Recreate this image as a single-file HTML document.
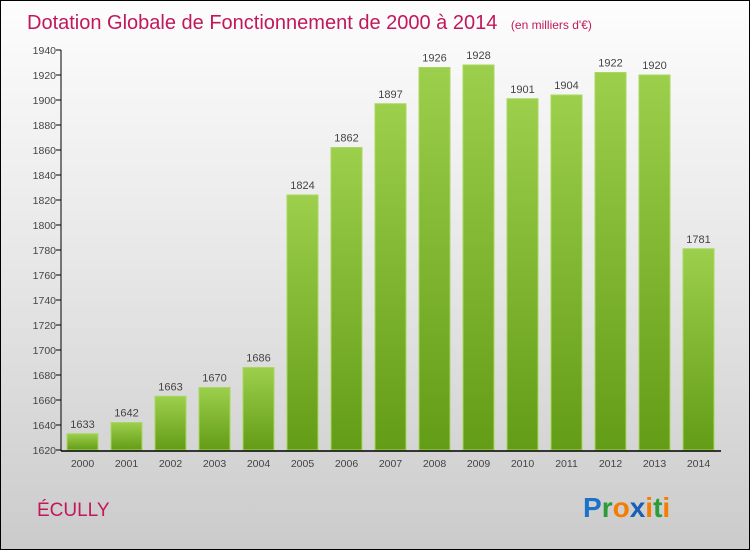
<!DOCTYPE html>
<html><head><meta charset="utf-8"><style>
body{margin:0}
#wrap{position:relative;width:748px;height:548px;border:1px solid #000;background:linear-gradient(#fdfdfd,#e6e6e6 50%,#cbcbcb);font-family:"Liberation Sans",sans-serif;overflow:hidden}
</style></head><body>
<div id="wrap">
<svg id="svg" width="748" height="548">
<defs><linearGradient id="bg" x1="0" y1="0" x2="0" y2="1"><stop offset="0" stop-color="#9ccf4c"/><stop offset="1" stop-color="#639c17"/></linearGradient></defs>
<text x="26" y="28" font-size="20" fill="#c2185b">Dotation Globale de Fonctionnement de 2000 à 2014 <tspan font-size="12" dx="8">(en milliers d'€)</tspan></text>
<text x="36" y="515" font-size="19" fill="#c2185b">ÉCULLY</text>
<text x="582" y="516" font-size="28" font-weight="bold"><tspan fill="#1a73c8">P</tspan><tspan fill="#2a9d3a">r</tspan><tspan fill="#f57c00">o</tspan><tspan fill="#1a5fb4">x</tspan><tspan fill="#f57c00">i</tspan><tspan fill="#2a9d3a">t</tspan><tspan fill="#f57c00">i</tspan></text>
<g id="g"></g>
</svg></div>
<script>
const years=["2000","2001","2002","2003","2004","2005","2006","2007","2008","2009","2010","2011","2012","2013","2014"];
const values=[1633,1642,1663,1670,1686,1824,1862,1897,1926,1928,1901,1904,1922,1920,1781];
const ticks=[1620,1640,1660,1680,1700,1720,1740,1760,1780,1800,1820,1840,1860,1880,1900,1920,1940];
const NS="http://www.w3.org/2000/svg",g=document.getElementById('g');
const y=v=>449-(v-1620)*1.25;
const x=i=>81+i*44;
function el(t,a,txt){const e=document.createElementNS(NS,t);for(const k in a)e.setAttribute(k,a[k]);if(txt!=null)e.textContent=txt;g.appendChild(e);return e;}
ticks.forEach(t=>{
 const l=el('line',{x1:55,x2:60,y1:y(t),y2:y(t),stroke:'#000'});
 
 
 const s=el('text',{x:55,y:y(t)+4,'font-size':10.5,fill:'#444','text-anchor':'end'},t);
 
 
});
values.forEach((v,i)=>{
 const r=el('rect',{x:x(i)-15,y:y(v),width:31,height:449-y(v),fill:'url(#bg)',stroke:'#a8d860','stroke-width':1});
 
 
 const t=el('text',{x:x(i)+0.5,y:y(v)-6,'font-size':11,fill:'#444','text-anchor':'middle'},v);
 
 
 const xl=el('text',{x:x(i)+0.5,y:466,'font-size':10.5,fill:'#444','text-anchor':'middle'},years[i]);
 
 
});
const ya=el('line',{x1:60,x2:60,y1:y(1940),y2:450,stroke:'#000'});


const xa=el('line',{x1:60,x2:720,y1:450,y2:450,stroke:'#000','stroke-width':1.5});


</script>
</body></html>
